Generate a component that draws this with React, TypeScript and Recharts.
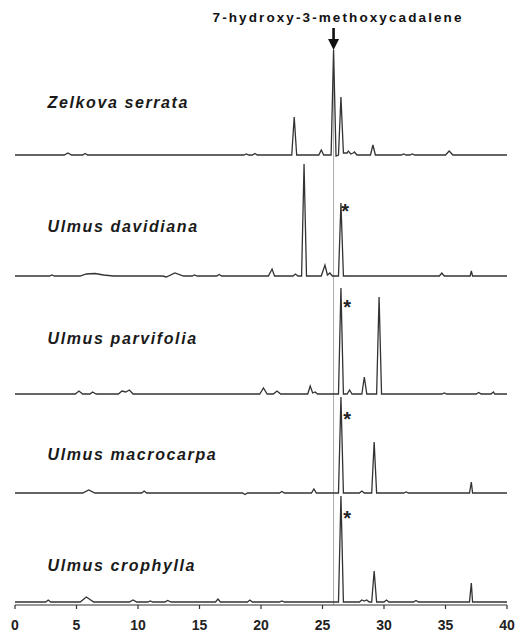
import React from 'react'
import { LineChart, Line, XAxis, YAxis, ReferenceLine, ReferenceDot } from 'recharts'

// retention time (min) vs. detector response, one list of [t, v] points per sample
const zelkova: [number, number][] = [
    [0, 0], [4.0, 0], [4.3, 2], [4.6, 0], [5.5, 0], [5.7, 1.5], [5.9, 0], [18.6, 0], [18.8, 1], [19.0, 0],
    [19.3, 0], [19.5, 1.5], [19.7, 0], [22.5, 0], [22.7, 38], [22.9, 0], [24.7, 0], [24.9, 5], [25.1, 0],
    [25.7, 0], [25.9, 105], [26.1, -1], [26.3, 0], [26.5, 58], [26.7, 2], [27.0, 2], [27.1, 4], [27.3, 1],
    [27.5, 2], [27.6, 3], [27.8, 0], [28.9, 0], [29.1, 10], [29.3, 0], [31.4, 0], [31.6, 1], [31.8, 0],
    [32.1, 0], [32.3, 1], [32.5, 0], [35.0, 0], [35.3, 4], [35.6, 0], [40, 0],
]
const davidiana: [number, number][] = [
    [0, 0], [2.8, 0], [3.0, 1], [3.2, 0], [5.3, 0], [5.8, 2], [6.5, 2.5], [7.2, 1], [8, 0], [12.0, 0],
    [12.3, -1], [13.0, 3], [13.7, 0], [14.4, 0], [14.6, 1], [14.8, 0], [16.4, 0], [16.6, 1.5], [16.8, 0],
    [20.6, 0], [20.9, 7], [21.1, 0], [22.6, 0], [22.8, 2], [23.0, 0], [23.3, 0], [23.5, 112], [23.7, 0],
    [24.9, 0], [25.2, 11], [25.4, 1], [25.6, 3], [25.8, 0], [26.3, 0], [26.5, 73], [26.7, 0], [34.5, 0],
    [34.7, 3], [34.9, 0], [37.0, 0], [37.1, 5], [37.2, 0], [40, 0],
]
const parvifolia: [number, number][] = [
    [0, 0], [4.9, 0], [5.2, 3], [5.5, 0], [6.1, 0], [6.3, 2], [6.6, 0], [8.4, 0], [8.7, 3], [9.0, 2],
    [9.3, 4], [9.6, 0], [19.9, 0], [20.2, 6], [20.5, 0], [21.0, 0], [21.3, 3], [21.6, 0], [23.8, 0],
    [24.0, 8], [24.2, 1], [24.4, 2], [24.6, 0], [26.3, 0], [26.5, 106], [26.7, 0], [27.0, 0], [27.2, 4],
    [27.4, 0], [28.2, 0], [28.4, 17], [28.6, 0], [29.4, 0], [29.6, 97], [29.8, 0], [34.7, 0], [34.9, 1],
    [35.1, 0], [37.5, 0], [37.7, 1.5], [37.9, 0], [38.7, 0], [38.9, 2], [39.0, 0], [40, 0],
]
const macrocarpa: [number, number][] = [
    [0, 0], [5.5, 0], [6.0, 3], [6.5, 0], [10.3, 0], [10.5, 2], [10.7, 0], [18.5, 0], [18.7, -1.5],
    [18.9, 0], [21.5, 0], [21.7, 1.5], [21.9, 0], [24.1, 0], [24.3, 4], [24.5, 0], [26.3, 0], [26.5, 96],
    [26.7, 0], [28.0, 0], [28.2, 2], [28.4, 0], [29.0, 0], [29.2, 51], [29.4, 0], [31.6, 0], [31.8, 1],
    [32.0, 0], [36.95, 0], [37.1, 11], [37.2, 0], [40, 0],
]
const crophylla: [number, number][] = [
    [0, 0], [2.5, 0], [2.7, 2], [2.9, 0], [5.3, 0], [5.8, 5], [6.4, 0], [9.3, 0], [9.6, 2], [9.9, 0],
    [10.8, 0], [11.0, 1], [11.2, 0], [12.2, 0], [12.4, 1.5], [12.7, 0], [16.3, 0], [16.5, 3], [16.7, 0],
    [18.9, 0], [19.1, 2], [19.3, 0], [21.5, 0], [21.7, 1], [21.9, 0], [26.3, 0], [26.5, 106], [26.7, 0],
    [28.0, 0], [28.2, 2], [28.4, 1], [28.6, 2], [28.8, 0], [29.0, 0], [29.2, 31], [29.4, 0], [30.0, 0],
    [30.2, 2], [30.4, 0], [32.4, 0], [32.6, 1.5], [32.8, 0], [36.95, 0], [37.1, 19], [37.2, 0], [40, 0],
]

const traces = [zelkova, davidiana, parvifolia, macrocarpa, crophylla]
const species = ['Zelkova serrata', 'Ulmus davidiana', 'Ulmus parvifolia', 'Ulmus macrocarpa', 'Ulmus crophylla']
const baselines = [155, 276, 394, 493, 602] // pixel row of each trace's zero line
const labelHeights = [47, 44, 50, 33, 31]
const starTimes = [null, 26.85, 27.0, 27.0, 27.0]
const starHeights = [null, 69, 91, 78, 88]
const markerTime = 25.9
const markerHeight = 105
const markerName = '7-hydroxy-3-methoxycadalene'
const xTicks = [0, 5, 10, 15, 20, 25, 30, 35, 40]

const W = 516
const H = 632
const plotTop = 28
const plotBottom = 605
const font = '"Liberation Sans", Arial, sans-serif'
const ink = '#333'

const toRows = (pts: [number, number][]) => pts.map(([t, v]) => ({ t, v }))

const Tick = ({ x, y, payload }: any) => (
    <text x={x} y={y} dy={19} textAnchor='middle' fontFamily={font} fontSize={14} fontWeight='bold' fill='#222'>
        {payload.value}
    </text>
)

export default function App() {
    return (
        <div style={{ position: 'absolute', left: 0, top: 0, background: '#fff' }}>
            <LineChart width={W} height={H} margin={{ top: plotTop, right: 9, left: 15, bottom: 0 }}>
                <XAxis
                    dataKey='t'
                    type='number'
                    domain={[0, 40]}
                    ticks={xTicks}
                    allowDataOverflow
                    height={H - plotBottom}
                    tickSize={4}
                    axisLine={{ stroke: ink, strokeWidth: 1.2 }}
                    tickLine={{ stroke: ink, strokeWidth: 1.2 }}
                    tick={<Tick />}
                />
                {baselines.map((b, i) => (
                    <YAxis
                        key={i}
                        yAxisId={'y' + i}
                        hide
                        type='number'
                        allowDataOverflow
                        domain={[b - plotBottom, b - plotTop]}
                    />
                ))}
                <ReferenceLine x={markerTime} yAxisId='y0' stroke='#aaa' strokeWidth={1} />
                {traces.map((tr, i) => (
                    <Line
                        key={i}
                        yAxisId={'y' + i}
                        data={toRows(tr)}
                        dataKey='v'
                        type='linear'
                        dot={false}
                        stroke={ink}
                        strokeWidth={1.3}
                        isAnimationActive={false}
                    />
                ))}
                {species.map((name, i) => (
                    <ReferenceDot
                        key={'l' + i}
                        yAxisId={'y' + i}
                        x={2.65}
                        y={labelHeights[i]}
                        shape={(p: any) => (
                            <text
                                x={p.cx}
                                y={p.cy}
                                fontFamily={font}
                                fontSize={16}
                                fontWeight='bold'
                                fontStyle='italic'
                                letterSpacing={1.6}
                                fill='#1a1a1a'
                            >
                                {name}
                            </text>
                        )}
                    />
                ))}
                {starTimes.map((t, i) =>
                    t == null ? null : (
                        <ReferenceDot
                            key={'s' + i}
                            yAxisId={'y' + i}
                            x={t}
                            y={starHeights[i] as number}
                            shape={(p: any) => (
                                <text x={p.cx} y={p.cy + 11} textAnchor='middle' fontFamily={font} fontSize={20} fontWeight='bold' fill='#222'>
                                    *
                                </text>
                            )}
                        />
                    )
                )}
                <ReferenceDot
                    yAxisId='y0'
                    x={markerTime}
                    y={markerHeight}
                    shape={(p: any) => (
                        <g>
                            <rect x={p.cx - 1.3} y={p.cy - 22} width={2.6} height={12} fill='#111' />
                            <path d={`M${p.cx - 5.5},${p.cy - 11} L${p.cx + 5.5},${p.cy - 11} L${p.cx},${p.cy} Z`} fill='#111' />
                            <text
                                x={p.cx + 4.5}
                                y={p.cy - 28}
                                textAnchor='middle'
                                fontFamily={font}
                                fontSize={13.5}
                                fontWeight='bold'
                                letterSpacing={2.1}
                                fill='#111'
                            >
                                {markerName}
                            </text>
                        </g>
                    )}
                />
            </LineChart>
        </div>
    )
}
